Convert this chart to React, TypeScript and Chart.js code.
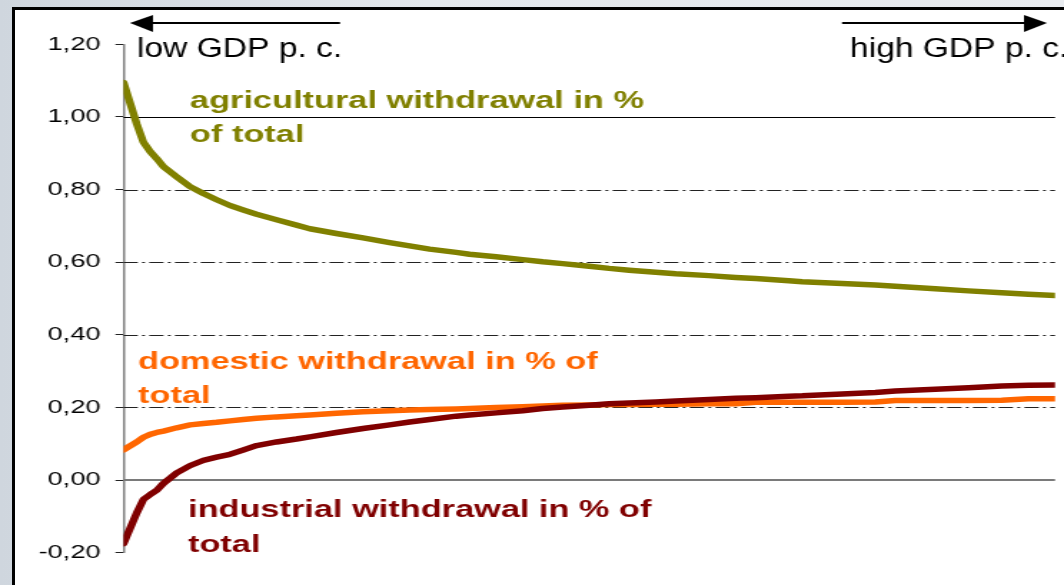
import React, { useEffect, useRef } from "react";
import { Chart, registerables } from "chart.js";

Chart.register(...registerables);

// Countries ranked from low to high GDP per capita (rank position on the x axis)
const RANKS = [0, 2, 3, 4, 5, 6, 8, 10, 12, 14, 16, 18, 20, 23, 26, 28, 32, 36, 40, 43, 46, 50, 52, 56, 60, 63, 66, 70, 73, 76, 80, 83, 88, 92, 95, 100, 102, 108, 113, 116, 122, 127, 132, 136, 140];

const AGRICULTURAL = [1.095, 0.98, 0.93, 0.905, 0.885, 0.863, 0.835, 0.808, 0.789, 0.772, 0.756, 0.744, 0.732, 0.717, 0.702, 0.692, 0.679, 0.667, 0.654, 0.645, 0.636, 0.627, 0.622, 0.615, 0.607, 0.601, 0.596, 0.589, 0.583, 0.578, 0.572, 0.568, 0.563, 0.558, 0.555, 0.549, 0.546, 0.541, 0.537, 0.534, 0.527, 0.521, 0.516, 0.512, 0.508];

const DOMESTIC = [0.083, 0.105, 0.118, 0.126, 0.131, 0.135, 0.144, 0.152, 0.156, 0.159, 0.163, 0.167, 0.17, 0.174, 0.177, 0.179, 0.184, 0.188, 0.191, 0.193, 0.194, 0.196, 0.197, 0.2, 0.202, 0.204, 0.206, 0.207, 0.208, 0.208, 0.209, 0.209, 0.21, 0.21, 0.214, 0.214, 0.214, 0.214, 0.215, 0.219, 0.219, 0.219, 0.22, 0.224, 0.224];

const INDUSTRIAL = [-0.175, -0.09, -0.053, -0.04, -0.028, -0.009, 0.02, 0.04, 0.054, 0.063, 0.071, 0.083, 0.095, 0.105, 0.113, 0.119, 0.131, 0.142, 0.152, 0.16, 0.167, 0.176, 0.179, 0.185, 0.191, 0.197, 0.201, 0.206, 0.21, 0.212, 0.215, 0.218, 0.222, 0.225, 0.227, 0.231, 0.232, 0.237, 0.241, 0.245, 0.25, 0.254, 0.259, 0.261, 0.262];

const Y_MIN = -0.2;
const Y_MAX = 1.2;
const Y_STEP = 0.2;
const DASHED_GRID = [0.2, 0.4, 0.6, 0.8];
const SOLID_GRID = [1.0];
const ZERO_GRID = [0.0];

const AGRI_LABEL = ["agricultural withdrawal in %", "of total"];
const DOMESTIC_LABEL = ["domestic withdrawal in % of", "total"];
const INDUSTRIAL_LABEL = ["industrial withdrawal in % of", "total"];
const LOW_LABEL = "low GDP p. c.";
const HIGH_LABEL = "high GDP p. c.";

const AGRI_COLOR = "#808000";
const DOMESTIC_COLOR = "#ff6600";
const INDUSTRIAL_COLOR = "#800000";

// the original picture is stretched horizontally
const FULL_W = 1064;
const FULL_H = 585;
const INNER_W = 744;
const STRETCH = FULL_W / INNER_W;
const ix = (refX: number) => refX / STRETCH;

const FONT = "'Liberation Sans', Arial, sans-serif";

const decorPlugin = {
  id: "decor",
  beforeDatasetsDraw(chart: any) {
    const { ctx, chartArea: a, scales } = chart;
    const y = scales.y;
    ctx.save();
    DASHED_GRID.forEach((v) => {
      const py = Math.round(y.getPixelForValue(v)) + 0.5;
      ctx.beginPath();
      ctx.setLineDash([10, 3, 2, 3]);
      ctx.strokeStyle = "#222";
      ctx.lineWidth = 1;
      ctx.moveTo(a.left, py);
      ctx.lineTo(a.right, py);
      ctx.stroke();
    });
    ctx.setLineDash([]);
    SOLID_GRID.forEach((v) => {
      const py = Math.round(y.getPixelForValue(v)) + 0.5;
      ctx.beginPath();
      ctx.strokeStyle = "#000";
      ctx.lineWidth = 1;
      ctx.moveTo(a.left, py);
      ctx.lineTo(a.right, py);
      ctx.stroke();
    });
    ZERO_GRID.forEach((v) => {
      const py = Math.round(y.getPixelForValue(v));
      ctx.beginPath();
      ctx.strokeStyle = "#7a7a7a";
      ctx.lineWidth = 2;
      ctx.moveTo(a.left, py);
      ctx.lineTo(a.right, py);
      ctx.stroke();
    });
    ctx.restore();
  },
  afterDraw(chart: any) {
    const { ctx } = chart;
    ctx.save();
    // arrows
    ctx.strokeStyle = "#000";
    ctx.fillStyle = "#000";
    ctx.lineWidth = 2;
    ctx.beginPath();
    ctx.moveTo(ix(150), 23);
    ctx.lineTo(ix(340), 23);
    ctx.stroke();
    ctx.beginPath();
    ctx.moveTo(ix(130), 23);
    ctx.lineTo(ix(153), 15);
    ctx.lineTo(ix(153), 32);
    ctx.closePath();
    ctx.fill();

    ctx.beginPath();
    ctx.moveTo(ix(842), 23);
    ctx.lineTo(ix(1027), 23);
    ctx.stroke();
    ctx.beginPath();
    ctx.moveTo(ix(1047), 23);
    ctx.lineTo(ix(1024), 15);
    ctx.lineTo(ix(1024), 32);
    ctx.closePath();
    ctx.fill();

    ctx.textAlign = "left";
    ctx.textBaseline = "alphabetic";
    ctx.font = `27px ${FONT}`;
    const narrow = 0.87;
    ctx.save();
    ctx.translate(ix(137), 57);
    ctx.scale(narrow, 1);
    ctx.fillText(LOW_LABEL, 0, 0);
    ctx.restore();
    ctx.save();
    ctx.translate(ix(850), 57);
    ctx.scale(narrow, 1);
    ctx.fillText(HIGH_LABEL, 0, 0);
    ctx.restore();

    ctx.font = `bold 24px ${FONT}`;
    ctx.fillStyle = AGRI_COLOR;
    ctx.fillText(AGRI_LABEL[0], ix(190), 108);
    ctx.fillText(AGRI_LABEL[1], ix(190), 142);
    ctx.fillStyle = DOMESTIC_COLOR;
    ctx.fillText(DOMESTIC_LABEL[0], ix(138), 369);
    ctx.fillText(DOMESTIC_LABEL[1], ix(138), 403);
    ctx.fillStyle = INDUSTRIAL_COLOR;
    ctx.fillText(INDUSTRIAL_LABEL[0], ix(188), 517);
    ctx.fillText(INDUSTRIAL_LABEL[1], ix(188), 552);
    ctx.restore();
  },
};

export default function App() {
  const canvasRef = useRef<HTMLCanvasElement | null>(null);

  useEffect(() => {
    if (!canvasRef.current) return;
    const toPoints = (vals: number[]) => RANKS.map((r, i) => ({ x: r, y: vals[i] }));
    const chart = new Chart(canvasRef.current, {
      type: "line",
      data: {
        datasets: [
          {
            label: "agricultural",
            data: toPoints(AGRICULTURAL),
            borderColor: AGRI_COLOR,
            order: 3,
          },
          {
            label: "domestic",
            data: toPoints(DOMESTIC),
            borderColor: DOMESTIC_COLOR,
            order: 2,
          },
          {
            label: "industrial",
            data: toPoints(INDUSTRIAL),
            borderColor: INDUSTRIAL_COLOR,
            order: 1,
          },
        ],
      },
      options: {
        animation: false,
        responsive: true,
        maintainAspectRatio: false,
        layout: {
          padding: { left: 0, right: INNER_W - ix(1055), top: 44.3, bottom: FULL_H - 552.7 },
        },
        elements: {
          line: {
            borderWidth: 5.5,
            tension: 0,
            borderCapStyle: "round",
            borderJoinStyle: "round",
            fill: false,
          },
          point: { radius: 0, hoverRadius: 0 },
        },
        plugins: {
          legend: { display: false },
          tooltip: { enabled: false },
          title: { display: false },
        },
        scales: {
          x: {
            type: "linear",
            min: RANKS[0],
            max: RANKS[RANKS.length - 1],
            display: false,
          },
          y: {
            min: Y_MIN,
            max: Y_MAX,
            afterFit: (scale: any) => {
              scale.width = ix(123.5);
            },
            ticks: {
              stepSize: Y_STEP,
              color: "#000",
              padding: 10.5,
              font: { family: FONT, size: 19 },
              callback: (v: any) => {
                const n = Math.abs(Number(v)) < 1e-9 ? 0 : Number(v);
                return n.toFixed(2).replace(".", ",");
              },
            },
            grid: {
              drawOnChartArea: false,
              drawTicks: true,
              tickLength: ix(8),
              tickColor: "#222",
              tickWidth: 1,
            },
            border: { display: true, color: "#808080", width: 1.5 },
          },
        },
      },
      plugins: [decorPlugin],
    } as any);
    return () => chart.destroy();
  }, []);

  return (
    <div
      style={{
        position: "fixed",
        left: 0,
        top: 0,
        width: FULL_W,
        height: FULL_H,
        overflow: "hidden",
        background: "linear-gradient(90deg, #cfd6de 0%, #e3e7ec 40%, #e8ebef 100%)",
      }}
    >
      <div
        style={{
          position: "absolute",
          left: 12,
          top: 7,
          width: FULL_W + 20,
          height: FULL_H + 20,
          background: "#fff",
          borderLeft: "3px solid #000",
          borderTop: "3px solid #000",
          boxSizing: "border-box",
        }}
      />
      <div
        style={{
          position: "absolute",
          left: 0,
          top: 0,
          width: INNER_W,
          height: FULL_H,
          transform: `scaleX(${STRETCH})`,
          transformOrigin: "0 0",
        }}
      >
        <canvas ref={canvasRef} />
      </div>
    </div>
  );
}
